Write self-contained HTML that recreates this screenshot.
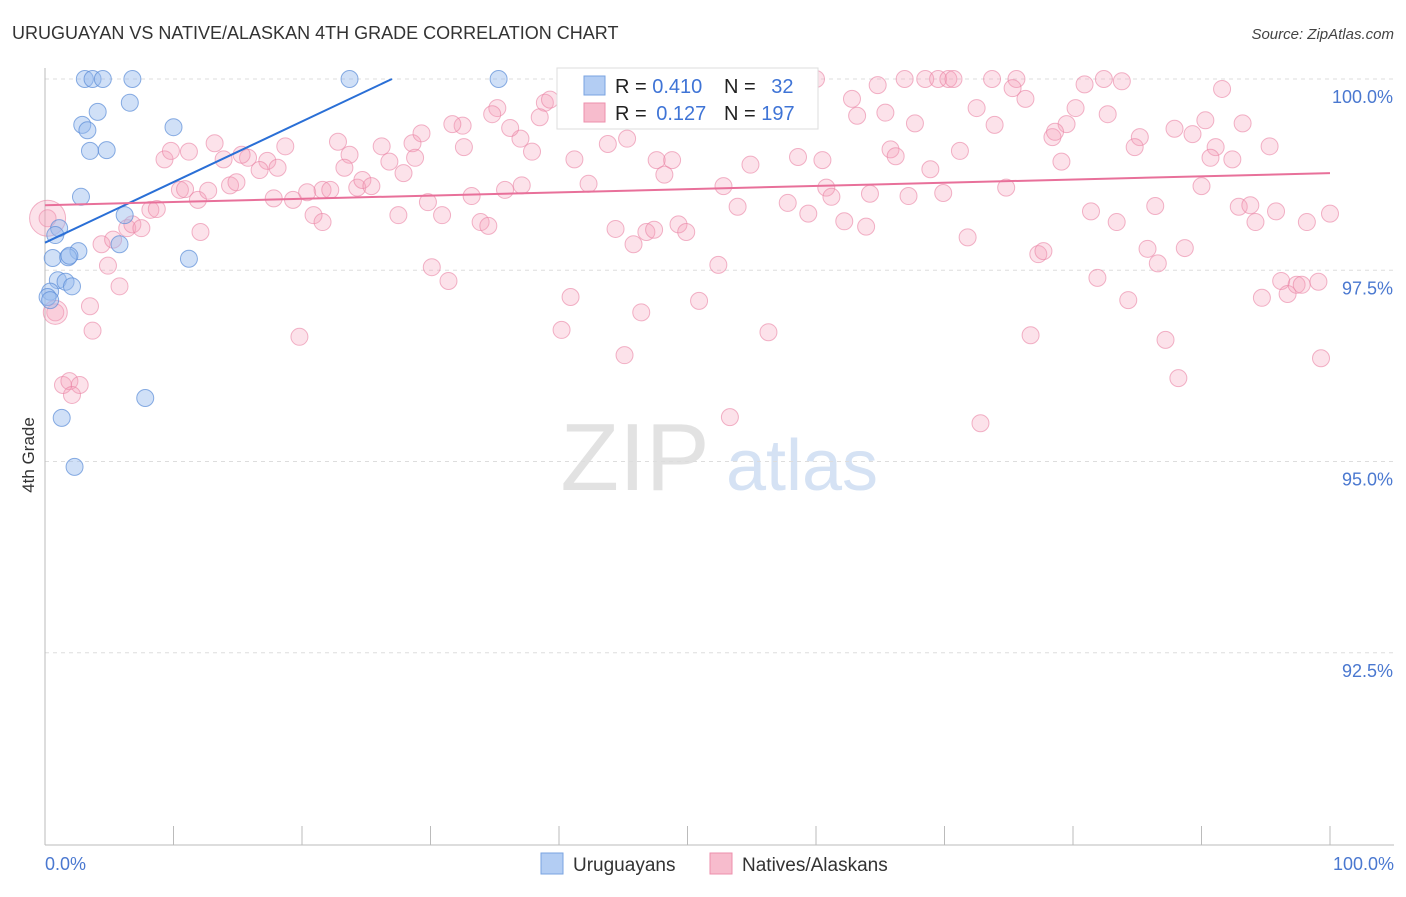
<!DOCTYPE html>
<html><head><meta charset="utf-8"><style>
body{margin:0;background:#fff;font-family:"Liberation Sans",sans-serif}
svg text{font-family:"Liberation Sans",sans-serif}
</style></head><body>
<svg id="chart" width="1406" height="892" viewBox="0 0 1406 892" xmlns="http://www.w3.org/2000/svg">
<text x="12" y="39" font-size="18" fill="#333">URUGUAYAN VS NATIVE/ALASKAN 4TH GRADE CORRELATION CHART</text>
<text x="1394" y="39" font-size="15" fill="#444" text-anchor="end" font-style="italic">Source: ZipAtlas.com</text>
<g>
<text x="635" y="490" font-size="96" fill="#e2e2e2" font-family="Liberation Serif,serif" text-anchor="middle">ZIP</text>
<text x="802" y="490" font-size="72" fill="#d5e2f4" text-anchor="middle">atlas</text>
</g>
<g id="grid"></g>
<g id="axes"></g>
<g id="marks"></g>
<text transform="translate(34,455) rotate(-90)" font-size="17" fill="#333" text-anchor="middle">4th Grade</text>
<g>
<rect x="557" y="68" width="261" height="61" fill="#fff" stroke="#ddd"/>
<rect x="584" y="76" width="21" height="19" fill="#b3cdf3" stroke="#7aa3e0"/>
<rect x="584" y="103" width="21" height="19" fill="#f7bccd" stroke="#ee8fac"/>
<text x="615" y="93" font-size="20" fill="#222">R = <tspan fill="#3f74d6">0.410</tspan></text>
<text x="724" y="93" font-size="20" fill="#222">N = <tspan fill="#3f74d6" dx="10">32</tspan></text>
<text x="615" y="120" font-size="20" fill="#222">R = <tspan fill="#3f74d6" dx="4">0.127</tspan></text>
<text x="724" y="120" font-size="20" fill="#222">N = <tspan fill="#3f74d6">197</tspan></text>
</g>
<g>
<rect x="541" y="853" width="22" height="21" fill="#b3cdf3" stroke="#7aa3e0"/>
<text x="573" y="871" font-size="19" fill="#333">Uruguayans</text>
<rect x="710" y="853" width="22" height="21" fill="#f7bccd" stroke="#ee8fac"/>
<text x="742" y="871" font-size="19" fill="#333">Natives/Alaskans</text>
</g>
</svg>
<script>
const yTicks=[100,97.5,95,92.5];
const yTickLabels=["100.0%","97.5%","95.0%","92.5%"];
const xTicks=[0,10,20,30,40,50,60,70,80,90,100];
const blueX=[3.1,3.7,4.5,6.8,23.7,35.3,4.1,6.6,2.9,3.3,3.5,4.8,10.0,2.8,6.2,1.1,0.8,5.8,2.6,0.6,1.8,1.9,11.2,1.0,1.6,2.1,0.4,0.2,0.4,7.8,1.3,2.3];
const blueY=[100,100,100,100,100,100,99.57,99.69,99.40,99.33,99.06,99.07,99.37,98.46,98.22,98.05,97.96,97.84,97.75,97.66,97.67,97.69,97.65,97.37,97.35,97.29,97.22,97.15,97.11,95.83,95.57,94.93];
const pinkX=[42.6,44.1,51.4,54.5,55.6,60.0,64.8,66.9,68.5,69.5,70.3,70.7,73.7,75.6,80.9,82.4,83.8,91.6,76.3,75.3,62.8,72.5,80.2,82.7,93.2,90.3,63.2,65.4,67.7,73.9,79.5,78.4,78.6,87.9,85.2,84.8,89.3,91.1,92.4,90.7,95.3,79.1,71.2,68.9,65.8,66.2,60.5,58.6,54.9,48.8,47.6,48.2,41.2,37.9,37.0,36.2,35.2,34.8,38.9,39.3,38.5,32.5,31.7,32.6,28.6,29.3,28.8,26.8,26.2,27.9,23.7,22.8,23.3,18.7,17.3,15.8,15.3,13.2,13.9,11.2,9.3,9.8,10.5,10.9,11.9,12.7,14.4,14.9,16.7,17.8,18.1,19.3,20.4,21.6,22.2,24.3,24.7,25.4,20.9,21.6,27.5,29.8,30.9,33.2,33.9,34.5,35.8,37.1,42.3,43.8,45.3,52.8,53.9,57.8,59.4,60.8,61.2,62.2,63.9,64.2,67.2,69.9,74.8,81.4,83.4,86.4,90.0,92.9,93.8,94.2,95.8,98.2,100.0,44.4,45.8,46.8,47.4,49.3,49.9,71.8,77.3,77.7,85.8,86.6,88.7,81.9,84.3,94.7,96.2,96.7,97.4,97.8,99.1,30.1,31.4,40.9,46.4,50.9,52.4,40.2,56.3,45.1,76.7,87.2,99.3,88.2,53.3,72.8,19.8,5.8,4.9,4.4,6.4,6.8,7.5,8.2,8.7,5.3,3.5,3.7,1.4,1.9,2.7,2.1,12.1,0.2,0.8];
const pinkY=[100,100,100,100,100,100,99.92,100,100,100,100,100,100,100,99.93,100,99.97,99.87,99.74,99.88,99.74,99.62,99.62,99.54,99.42,99.46,99.52,99.56,99.42,99.40,99.41,99.24,99.31,99.35,99.24,99.11,99.28,99.11,98.95,98.97,99.12,98.92,99.06,98.82,99.08,98.99,98.94,98.98,98.88,98.94,98.94,98.75,98.95,99.05,99.22,99.36,99.62,99.54,99.69,99.73,99.50,99.39,99.41,99.11,99.16,99.29,98.97,98.92,99.12,98.77,99.01,99.18,98.84,99.12,98.93,98.97,99.01,99.16,98.95,99.05,98.95,99.06,98.55,98.56,98.42,98.54,98.61,98.65,98.81,98.44,98.84,98.42,98.52,98.55,98.55,98.58,98.68,98.60,98.22,98.13,98.22,98.39,98.22,98.47,98.13,98.08,98.55,98.61,98.63,99.15,99.22,98.60,98.33,98.38,98.24,98.58,98.46,98.14,98.07,98.50,98.47,98.51,98.58,98.27,98.13,98.34,98.60,98.33,98.35,98.13,98.27,98.13,98.24,98.04,97.84,98.00,98.03,98.10,98.00,97.93,97.71,97.75,97.78,97.59,97.79,97.40,97.11,97.14,97.36,97.19,97.31,97.31,97.35,97.54,97.36,97.15,96.95,97.10,97.57,96.72,96.69,96.39,96.65,96.59,96.35,96.09,95.58,95.50,96.63,97.29,97.56,97.84,98.05,98.10,98.05,98.29,98.30,97.90,97.03,96.71,96.00,96.05,96.00,95.87,98.00,98.18,96.95];
const pinkBig=[[0.2,98.18,18],[0.8,96.95,12]];
const blueTrend=[[0,97.86],[27,100]];
const pinkTrend=[[0,98.35],[100,98.77]];
const NS="http://www.w3.org/2000/svg";
const X0=45,X1=1330,Y100=79,PX=76.5;
const sx=v=>X0+(X1-X0)*v/100;
const sy=v=>Y100+(100-v)*PX*10/10*1;
function el(t,a,p){const e=document.createElementNS(NS,t);for(const k in a)e.setAttribute(k,a[k]);p.appendChild(e);return e;}
const grid=document.getElementById('grid'),axes=document.getElementById('axes'),marks=document.getElementById('marks');
const syy=v=>Y100+(100-v)/0.1*7.65;
yTicks.forEach((t,i)=>{
 const g=el('line',{x1:X0,x2:1394,y1:syy(t),y2:syy(t),stroke:'#ddd','stroke-dasharray':'4,4'},grid);
 
 
 const tx=el('text',{x:1393,y:syy(t)+24,'font-size':18,fill:'#4a78d0','text-anchor':'end'},axes);
 tx.textContent=yTickLabels[i];
 
 
});
const ax=el('line',{x1:X0,x2:1394,y1:845,y2:845,stroke:'#bbb'},axes);


const ay=el('line',{x1:X0,x2:X0,y1:68,y2:845,stroke:'#bbb'},axes);


xTicks.forEach(t=>{
 const l=el('line',{x1:sx(t),x2:sx(t),y1:826,y2:845,stroke:'#bbb'},axes);
 
 
});
const xl0=el('text',{x:45,y:870,'font-size':18,fill:'#4a78d0'},axes);xl0.textContent='0.0%';


const xl1=el('text',{x:1394,y:870,'font-size':18,fill:'#4a78d0','text-anchor':'end'},axes);xl1.textContent='100.0%';


pinkX.forEach((x,i)=>{
 const c=el('circle',{cx:sx(x),cy:syy(pinkY[i]),r:8.5,fill:'rgba(244,160,186,0.3)',stroke:'rgba(234,130,164,0.6)','stroke-width':1},marks);
 
 
});
pinkBig.forEach(p=>{
 const c=el('circle',{cx:sx(p[0]),cy:syy(p[1]),r:p[2],fill:'rgba(244,160,186,0.3)',stroke:'rgba(234,130,164,0.6)'},marks);
 
 
});
blueX.forEach((x,i)=>{
 const c=el('circle',{cx:sx(x),cy:syy(blueY[i]),r:8.5,fill:'rgba(150,186,238,0.45)',stroke:'rgba(90,140,215,0.7)','stroke-width':1},marks);
 
 
});
const tb=el('line',{x1:sx(blueTrend[0][0]),y1:syy(blueTrend[0][1]),x2:sx(blueTrend[1][0]),y2:syy(blueTrend[1][1]),stroke:'#2a6fd6','stroke-width':2},marks);


const tp=el('line',{x1:sx(pinkTrend[0][0]),y1:syy(pinkTrend[0][1]),x2:sx(pinkTrend[1][0]),y2:syy(pinkTrend[1][1]),stroke:'#e8709a','stroke-width':2},marks);


</script>
</body></html>
